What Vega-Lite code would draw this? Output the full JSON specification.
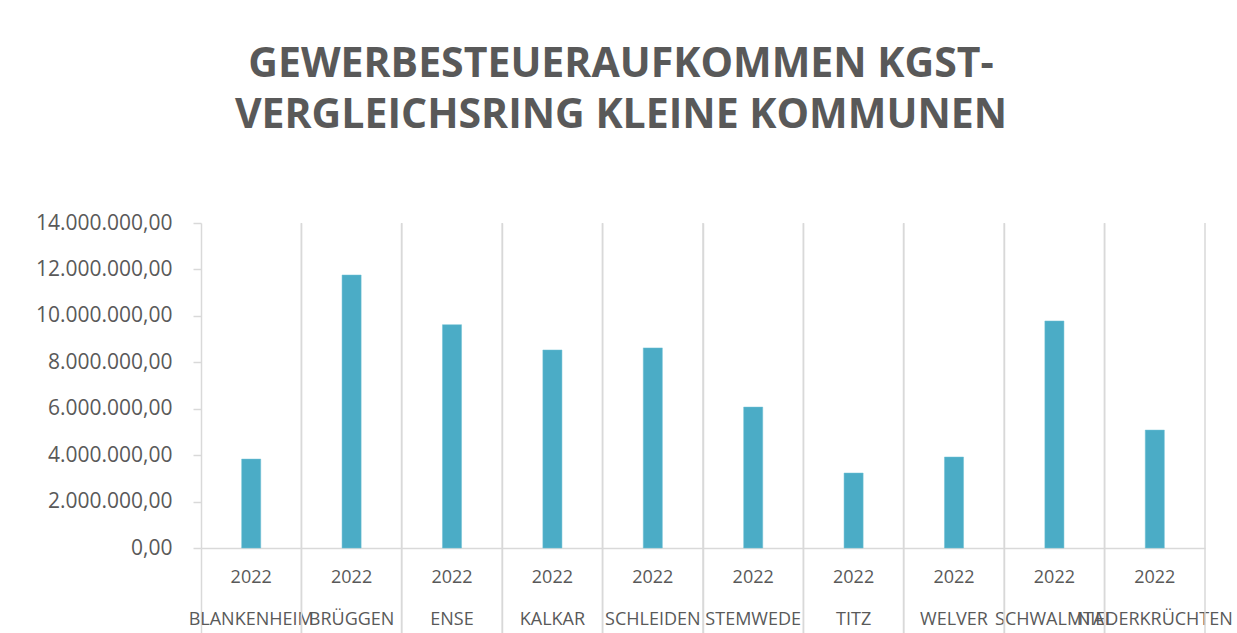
{
  "$schema": "https://vega.github.io/schema/vega-lite/v6.json",
  "width": 1004,
  "height": 325,
  "autosize": {"type": "none"},
  "padding": {"left": 201, "top": 223, "right": 32, "bottom": 85},
  "background": "white",
  "config": {
    "view": {"stroke": null},
    "font": "Open Sans",
    "locale": {"number": {"decimal": ",", "thousands": ".", "grouping": [3], "currency": ["", " €"]}}
  },
  "title": {
    "text": ["GEWERBESTEUERAUFKOMMEN KGST-", "VERGLEICHSRING KLEINE KOMMUNEN"],
    "fontSize": 41,
    "fontWeight": "bold",
    "font": "Open Sans",
    "color": "#595959",
    "anchor": "middle",
    "dx": -82,
    "offset": 75,
    "lineHeight": 51
  },
  "data": {
    "values": [
      {"Kommune": "Blankenheim", "Jahr": "2022", "Gewerbesteuer": 3830000},
      {"Kommune": "Brüggen", "Jahr": "2022", "Gewerbesteuer": 11760000},
      {"Kommune": "Ense", "Jahr": "2022", "Gewerbesteuer": 9620000},
      {"Kommune": "Kalkar", "Jahr": "2022", "Gewerbesteuer": 8530000},
      {"Kommune": "Schleiden", "Jahr": "2022", "Gewerbesteuer": 8620000},
      {"Kommune": "Stemwede", "Jahr": "2022", "Gewerbesteuer": 6070000},
      {"Kommune": "Titz", "Jahr": "2022", "Gewerbesteuer": 3230000},
      {"Kommune": "Welver", "Jahr": "2022", "Gewerbesteuer": 3920000},
      {"Kommune": "Schwalmtal", "Jahr": "2022", "Gewerbesteuer": 9780000},
      {"Kommune": "Niederkrüchten", "Jahr": "2022", "Gewerbesteuer": 5080000}
    ]
  },
  "layer": [
    {
      "mark": {"type": "bar", "color": "#4BACC6", "stroke": "#6ec0d4", "strokeWidth": 0.5, "width": {"band": 0.19}},
      "encoding": {
        "x": {
          "field": "Kommune",
          "type": "nominal",
          "sort": null,
          "scale": {"paddingInner": 0, "paddingOuter": 0},
          "axis": {
            "title": null,
            "bandPosition": 0,
            "grid": true,
            "gridColor": "#d9d9d9",
            "gridWidth": 1.5,
            "ticks": true,
            "tickSize": 85,
            "tickColor": "#d9d9d9",
            "tickWidth": 1.5,
            "domain": true,
            "domainColor": "#d9d9d9",
            "domainWidth": 1.5,
            "labelOffset": 0,
            "labelAngle": 0,
            "labelExpr": "['2022', upper(datum.label)]",
            "labelFontSize": 18,
            "labelLineHeight": 42,
            "labelPadding": -65,
            "labelColor": "#595959",
            "labelOverlap": false,
            "labelBound": false,
            "labelLimit": 0
          }
        },
        "y": {
          "field": "Gewerbesteuer",
          "type": "quantitative",
          "scale": {"domain": [0, 14000000], "nice": false},
          "axis": {
            "title": null,
            "values": [0, 2000000, 4000000, 6000000, 8000000, 10000000, 12000000, 14000000],
            "format": ",.2f",
            "labelFontSize": 21,
            "labelColor": "#595959",
            "labelPadding": 21,
            "tickSize": 8,
            "tickColor": "#d9d9d9",
            "tickWidth": 1.5,
            "domain": false,
            "grid": false
          }
        }
      }
    },
    {
      "mark": {"type": "rule", "color": "#d9d9d9", "strokeWidth": 1.5},
      "encoding": {
        "x": {"field": "Kommune", "type": "nominal", "sort": null, "bandPosition": 1},
        "y": {"datum": 14000000},
        "y2": {"datum": -3700000}
      }
    }
  ]
}
